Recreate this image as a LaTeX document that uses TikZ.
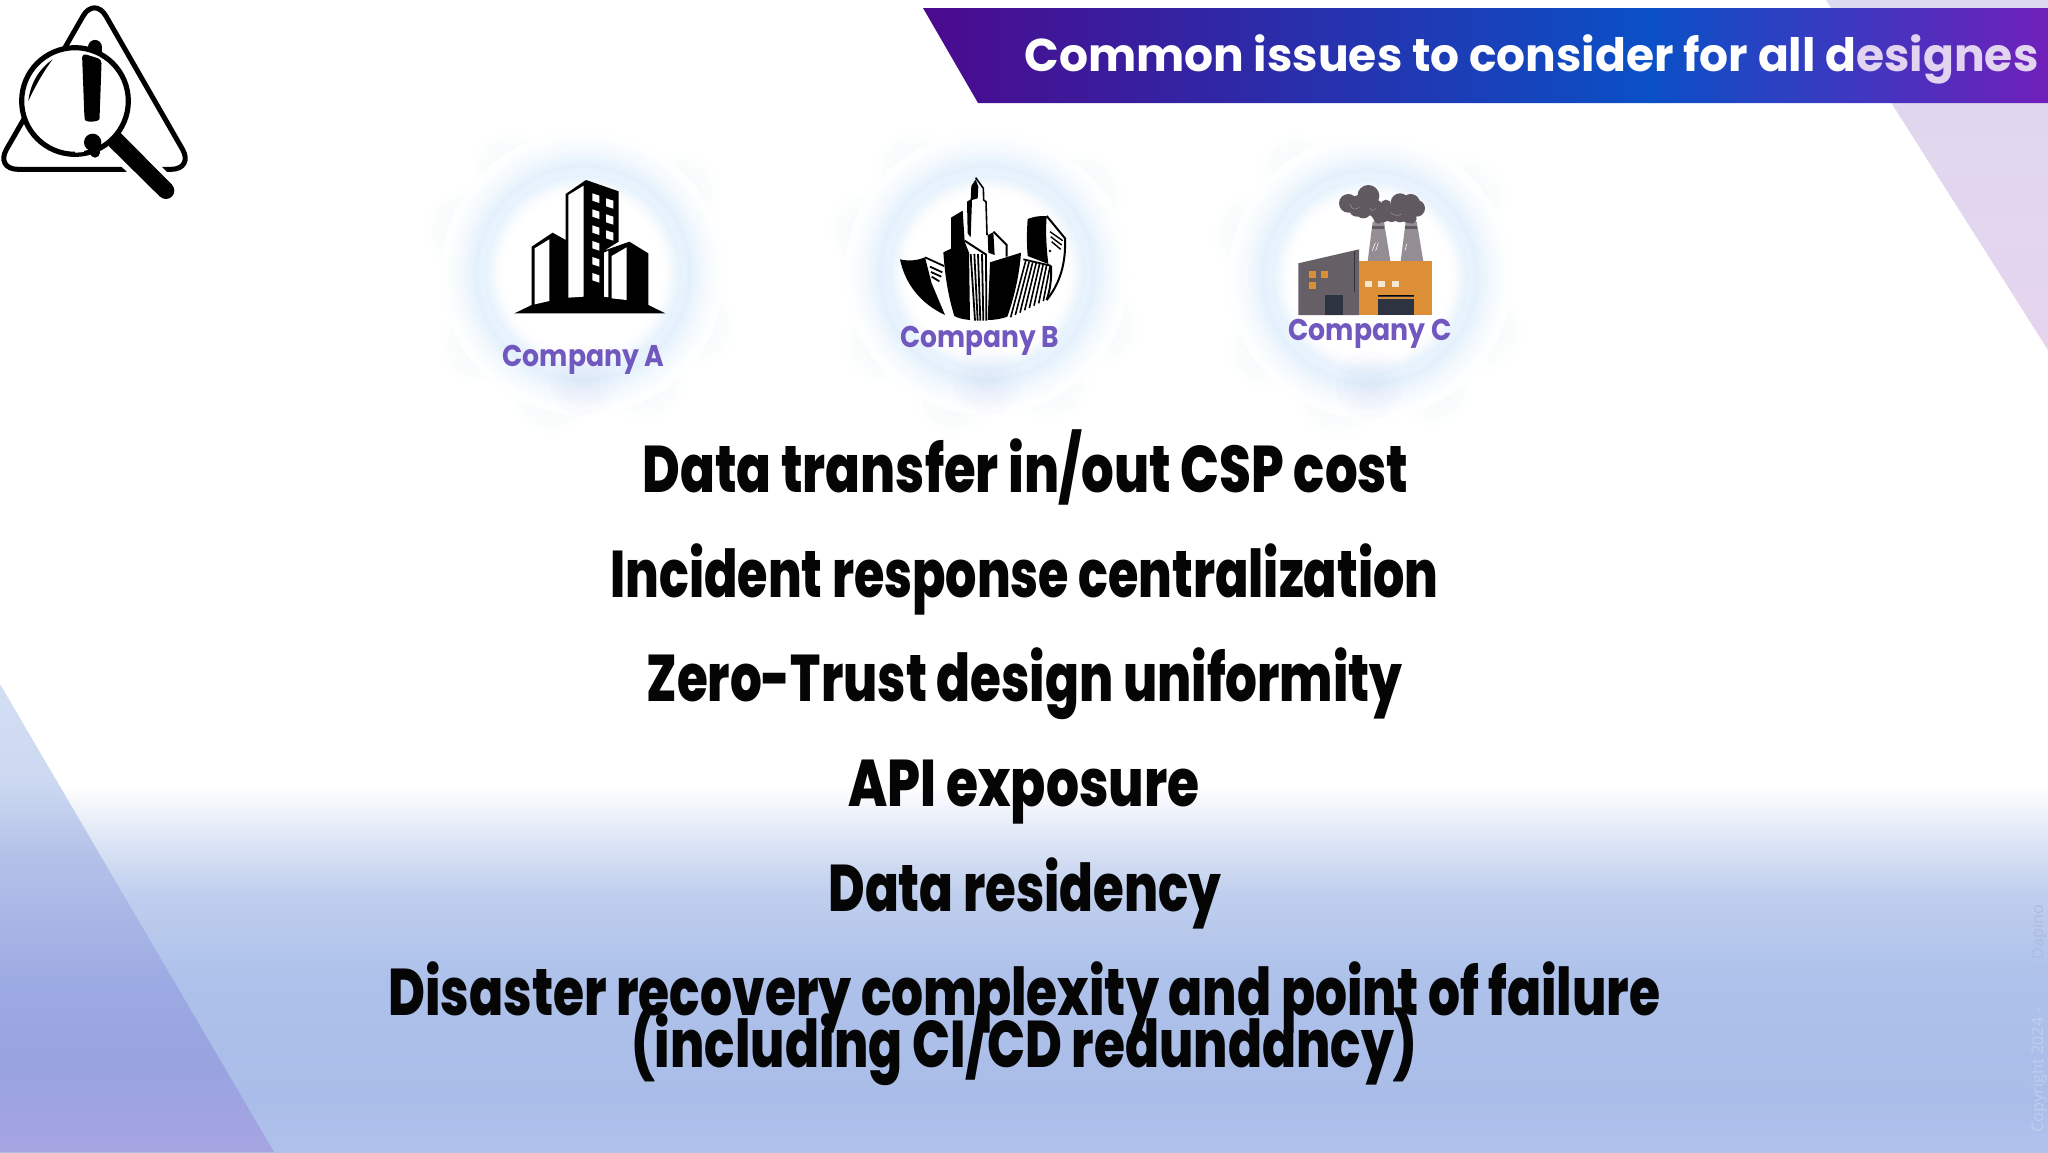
\documentclass[tikz,border=0pt]{standalone}
\usepackage{fontspec}
\newfontfamily\popsbold{Poppins}[UprightFont=* Bold]
\newfontfamily\popsheavy{Poppins ExtraBold}
\newfontfamily\copyfont{Open Sans}
\usetikzlibrary{calc}
\definecolor{labelc}{HTML}{7158BE}
\definecolor{glowa}{HTML}{D6E9FB}
\definecolor{glowl}{HTML}{C9CDF3}
\definecolor{trigc}{HTML}{E2D3F0}
\definecolor{inkc}{HTML}{050505}
\definecolor{b1}{HTML}{E5EBF7}\definecolor{b2}{HTML}{C0CFEE}\definecolor{b3}{HTML}{ADC1EA}\definecolor{b4}{HTML}{AABDE8}\definecolor{b5}{HTML}{B0C2EC}
\definecolor{l0}{HTML}{D2DEF2}\definecolor{l1}{HTML}{CDD9F1}\definecolor{l2}{HTML}{B5C3E9}\definecolor{l3}{HTML}{9DABE3}\definecolor{l4}{HTML}{98A3E0}\definecolor{l5}{HTML}{A6A5E2}
\definecolor{r0}{HTML}{DDD9EF}\definecolor{r1}{HTML}{E6D4EF}
\definecolor{h0}{HTML}{4B0A8E}\definecolor{h1}{HTML}{0A50C6}\definecolor{h2}{HTML}{7020BA}
\definecolor{smoke}{HTML}{605A60}\definecolor{wall}{HTML}{665F66}\definecolor{orng}{HTML}{DD8F37}\definecolor{door}{HTML}{2D3340}\definecolor{chim}{HTML}{948D94}\definecolor{creamw}{HTML}{F6E7D0}
\definecolor{copya}{HTML}{BFCEEF}\definecolor{copyb}{HTML}{B0C1E6}\definecolor{copyc}{HTML}{ABBCE0}
\newlength{\pxu}\setlength{\pxu}{0.5pt}
\newcommand{\fitw}[2]{\resizebox{#1\pxu}{\height}{#2}}
\newcommand{\vband}[6]{\shade[top color=#5,bottom color=#6] (#1,#3-0.5) rectangle (#2,#4+0.5);}
\newcommand{\hband}[6]{\shade[left color=#5,right color=#6] (#1-0.5,#3) rectangle (#2+0.5,#4);}
\newcommand{\glowat}[2]{%
  \foreach \a in {25,60,105,145,200,235,320}{\foreach \s in {40,34,28,22,16,10}{\fill[glowa,opacity=.035] ($(#1,#2)+(\a:125)$) circle (\s);}}%
  \foreach \r/\p in {142/2,138/6,134/11,130/17,126/24,122/32,118/41,114/51,111/60,108/68,106/63,104/58,102/54,100/56,98/58,96/52,94/44,92/36,90/28,88/20,86/13,84/7,82/3,80/0}{\fill[glowa!\p!white] (#1,#2) circle (\r);}%
  \foreach \s in {34,26,18,10}{\fill[glowl,opacity=.05] (#1,#2+108) circle (\s);}%
}
\tikzset{
  maintext/.style={anchor=base west,inner sep=0pt,text=inkc,font=\popsheavy\fontsize{33pt}{33pt}\selectfont},
  complabel/.style={anchor=base west,inner sep=0pt,text=labelc,font=\popsbold\fontsize{15pt}{15pt}\selectfont},
  lens/.style={line width=2.6pt,draw=black,fill=white}
}
\begin{document}
\begin{tikzpicture}[x=0.5pt,y=-0.5pt]
\useasboundingbox (0,0) rectangle (2048,1152);
\fill[white] (0,0) rectangle (2048,1152);
% bottom band
\vband{0}{2048}{785}{827}{white}{b1}
\vband{0}{2048}{827}{893}{b1}{b2}
\vband{0}{2048}{893}{977}{b2}{b3}
\vband{0}{2048}{977}{1100}{b3}{b4}
\vband{0}{2048}{1100}{1152}{b4}{b5}
% left triangle
\begin{scope}
\clip (0,684) -- (274,1152) -- (0,1152) -- cycle;
\vband{0}{274}{684}{780}{l0}{l1}
\vband{0}{274}{780}{850}{l1}{l2}
\vband{0}{274}{850}{977}{l2}{l3}
\vband{0}{274}{977}{1060}{l3}{l4}
\vband{0}{274}{1060}{1152}{l4}{l5}
\end{scope}
% right triangle
\shade[top color=r0,bottom color=r1] (1826,0) -- (2048,0) -- (2048,350) -- cycle;
% header
\begin{scope}
\clip (923,8) -- (2048,8) -- (2048,103) -- (978,103) -- cycle;
\hband{923}{1650}{8}{103}{h0}{h1}
\hband{1650}{2048}{8}{103}{h1}{h2}
\end{scope}
\node[anchor=base west,inner sep=0pt,text=white,font=\popsbold\fontsize{23pt}{23pt}\selectfont] (title) at (1024,71) {\fitw{1014}{Common issues to consider for all d\textcolor{trigc}{esignes}}};
% glows
\glowat{583}{273}
\glowat{987}{273}
\glowat{1370}{277}
% warning icon
\begin{scope}[scale=1/3]
\draw[line width=2.5pt,rounded corners=11.5pt,line join=round] (283.5,-11.5) -- (582,508) -- (-15,508) -- cycle;
\draw[line width=7.4pt,line cap=round] (285,142) -- (285,165);
\draw[line width=5pt,line cap=round] (285,458) -- (285,445);
\fill[white] (372,387) -- (530,545) -- (470,600) -- (312,450) -- cycle;
\fill[black] (360,397) -- (516,554) -- (480,590) -- (326,438) -- cycle;
\fill[black] (498,572) circle (25);
\draw[lens] (225,303) circle (160);
\begin{scope}
\clip (225,303) circle (155);
\fill[black,rounded corners=2pt] (246,160) -- (305,178) -- (299,345) .. controls (298,365) and (255,370) .. (253,345) -- cycle;
\fill[black] (278,427) circle (26);
\fill[white] (225,445) rectangle (252,470);
\end{scope}
\fill[black] (158,178) .. controls (120,205) and (92,245) .. (85,303) .. controls (105,260) and (130,215) .. (158,178) -- cycle;
\end{scope}
% Company A building
\begin{scope}[shift={(430,120)},scale=1/3]
\fill[black] (253,580) .. controls (275,570) and (290,562) .. (305,555) -- (305,380) -- (368,338) -- (407,360) -- (407,222) -- (468,180) -- (566,214) -- (566,365) -- (522,392) -- (598,365) -- (655,400) -- (655,555) .. controls (675,565) and (690,572) .. (706,580) -- cycle;
\fill[white] (314,385) -- (358,358) -- (358,543) -- (314,553) -- cycle;
\fill[white] (415,225) -- (461,197) -- (461,530) -- (415,533) -- cycle;
\fill[white] (522,398) -- (535,392) -- (535,532) -- (522,530) -- cycle;
\fill[white] (545,408) -- (590,382) -- (590,540) -- (545,535) -- cycle;
\foreach \yy in {220,268,316,363,411,459} \fill[white] (487,\yy) -- (508,\yy+7) -- (508,\yy+29) -- (487,\yy+22) -- cycle;
\foreach \yy in {235,283,331} \fill[white] (528,\yy) -- (550,\yy+7) -- (550,\yy+31) -- (528,\yy+24) -- cycle;
\end{scope}
% Company B building
\begin{scope}[shift={(820,120)},scale=1/3,line cap=butt]
\fill[black] (240,418) .. controls (270,425) and (295,420) .. (315,412) -- (335,490) -- (375,585) .. controls (300,550) and (255,490) .. (240,418) -- cycle;
\draw[line width=0.9pt] (315,412) -- (372,438);
\foreach \a/\b/\c/\d in {330/440/367/457,333/456/364/470,335/470/358/484} \draw[line width=0.9pt] (\a,\b) -- (\c,\d);
\fill[black] (370,397) -- (393,386) -- (393,293) -- (428,272) -- (434,365) -- (447,398) -- (450,600) .. controls (430,598) and (415,595) .. (403,588) .. controls (385,530) and (375,470) .. (370,397) -- cycle;
\fill[black] (467,178) -- (454,198) -- (452,238) -- (441,245) -- (443,340) -- (452,352) -- (456,240) -- (473,235) -- (475,200) -- cycle;
\draw[line width=0.8pt,line join=round] (467,173) -- (490,205) -- (491,240) -- (498,245) -- (501,345);
\fill[black] (503,345) -- (520,337) -- (524,405) -- (505,398) -- cycle;
\draw[line width=1pt] (520,335) -- (560,375) -- (560,410);
\draw[line width=1pt] (434,362) -- (500,405);
\foreach \a/\b in {452/465,463/473,474/481,486/490,498/499} \draw[line width=0.9pt] (\a,402) -- (\b,602);
\fill[black] (510,427) -- (603,398) .. controls (598,470) and (580,540) .. (562,590) .. controls (540,598) and (520,600) .. (503,600) -- cycle;
\draw[line width=0.9pt] (610,418) -- (692,437);
\foreach \i in {0,...,7} \draw[line width=0.8pt] (617+\i*10.5,423+\i*2) -- (572+\i*14,592-\i*7);
\fill[black] (623,297) .. controls (640,290) and (660,287) .. (680,288) .. controls (676,340) and (680,390) .. (685,432) -- (623,408) .. controls (620,370) and (620,335) .. (623,297) -- cycle;
\draw[line width=1pt] (680,288) -- (735,355) .. controls (738,430) and (720,490) .. (680,540);
\draw[line width=1pt] (693,437) .. controls (695,480) and (690,510) .. (680,540);
\foreach \a/\b/\c/\d in {690/335/728/362,692/350/725/375,695/365/722/388} \draw[line width=0.7pt] (\a,\b) -- (\c,\d);
\fill[black] (690,393) circle (4);
\end{scope}
% Company C factory
\begin{scope}[shift={(1200,120)},scale=1/3]
\fill[chim] (503,424) -- (518,305) -- (552,305) -- (571,424) -- cycle;
\fill[chim] (602,424) -- (617,305) -- (650,305) -- (670,424) -- cycle;
\fill[smoke] (517,318) rectangle (553,328);
\fill[smoke] (616,318) rectangle (652,328);
\foreach \a/\b/\r in {445/250/28,478/255/30,505/228/33,525/265/26,490/270/25,548/283/24,575/280/26,600/248/28,632/250/28,650/265/25,625/285/24,600/285/22,535/280/22,470/268/22,558/255/16,535/296/15,635/296/15} \fill[smoke] (\a,\b) circle (\r);
\draw[chim,line width=0.3pt] (450,252) .. controls (455,270) and (465,270) .. (478,262);
\draw[chim,line width=0.3pt] (510,265) .. controls (515,275) and (520,272) .. (526,265);
\draw[chim,line width=0.3pt] (572,278) .. controls (585,288) and (595,288) .. (604,282);
\draw[white,line width=0.3pt] (517,392) -- (526,368) (527,392) -- (535,368) (615,392) -- (620,372);
\fill[wall] (295,430) -- (477,388) -- (477,585) -- (295,585) -- cycle;
\draw[door,line width=0.4pt] (464,392) -- (464,515);
\fill[orng] (477,424) rectangle (697,585);
\fill[door] (376,525) rectangle (429,585);
\fill[door] (533,525) rectangle (641,585);
\fill[black] (533,525) rectangle (641,529);
\fill[orng] (533,531) rectangle (641,536);
\fill[orng] (327,452) rectangle (349,473);
\fill[orng] (362,452) rectangle (384,473);
\fill[orng] (327,485) rectangle (349,506);
\fill[creamw] (495,482) rectangle (516,501);
\fill[creamw] (535,482) rectangle (556,501);
\fill[creamw] (577,482) rectangle (598,501);
\end{scope}
% labels
\node[complabel] (compa) at (502,366) {\fitw{162}{Company A}};
\node[complabel] (compb) at (900,347) {\fitw{159}{Company B}};
\node[complabel] (compc) at (1288,340) {\fitw{163}{Company C}};
% main text
\node[maintext] (l1) at (642,492) {\fitw{766}{Data transfer in/out CSP cost}};
\node[maintext] (l2) at (610,597) {\fitw{828}{Incident response centralization}};
\node[maintext] (l3) at (646,701) {\fitw{756}{Zero-Trust design uniformity}};
\node[maintext] (l4) at (848,806) {\fitw{351}{API exposure}};
\node[maintext] (l5) at (828,911) {\fitw{393}{Data residency}};
\node[maintext] (l6) at (388,1015) {\fitw{1272}{Disaster recovery complexity and point of failure}};
\node[maintext] (l7) at (631,1067) {\fitw{786}{(including CI/CD redundancy)}};
% copyright
\node[anchor=base west,inner sep=0pt,rotate=90,font=\copyfont\fontsize{8pt}{8pt}\selectfont] (copy) at (2043,1133) {\fitw{228}{\textcolor{copya}{Copyright 2024 - }\textcolor{copyb}{Carlo }\textcolor{copyc}{Dapino}}};
\end{tikzpicture}
\end{document}
